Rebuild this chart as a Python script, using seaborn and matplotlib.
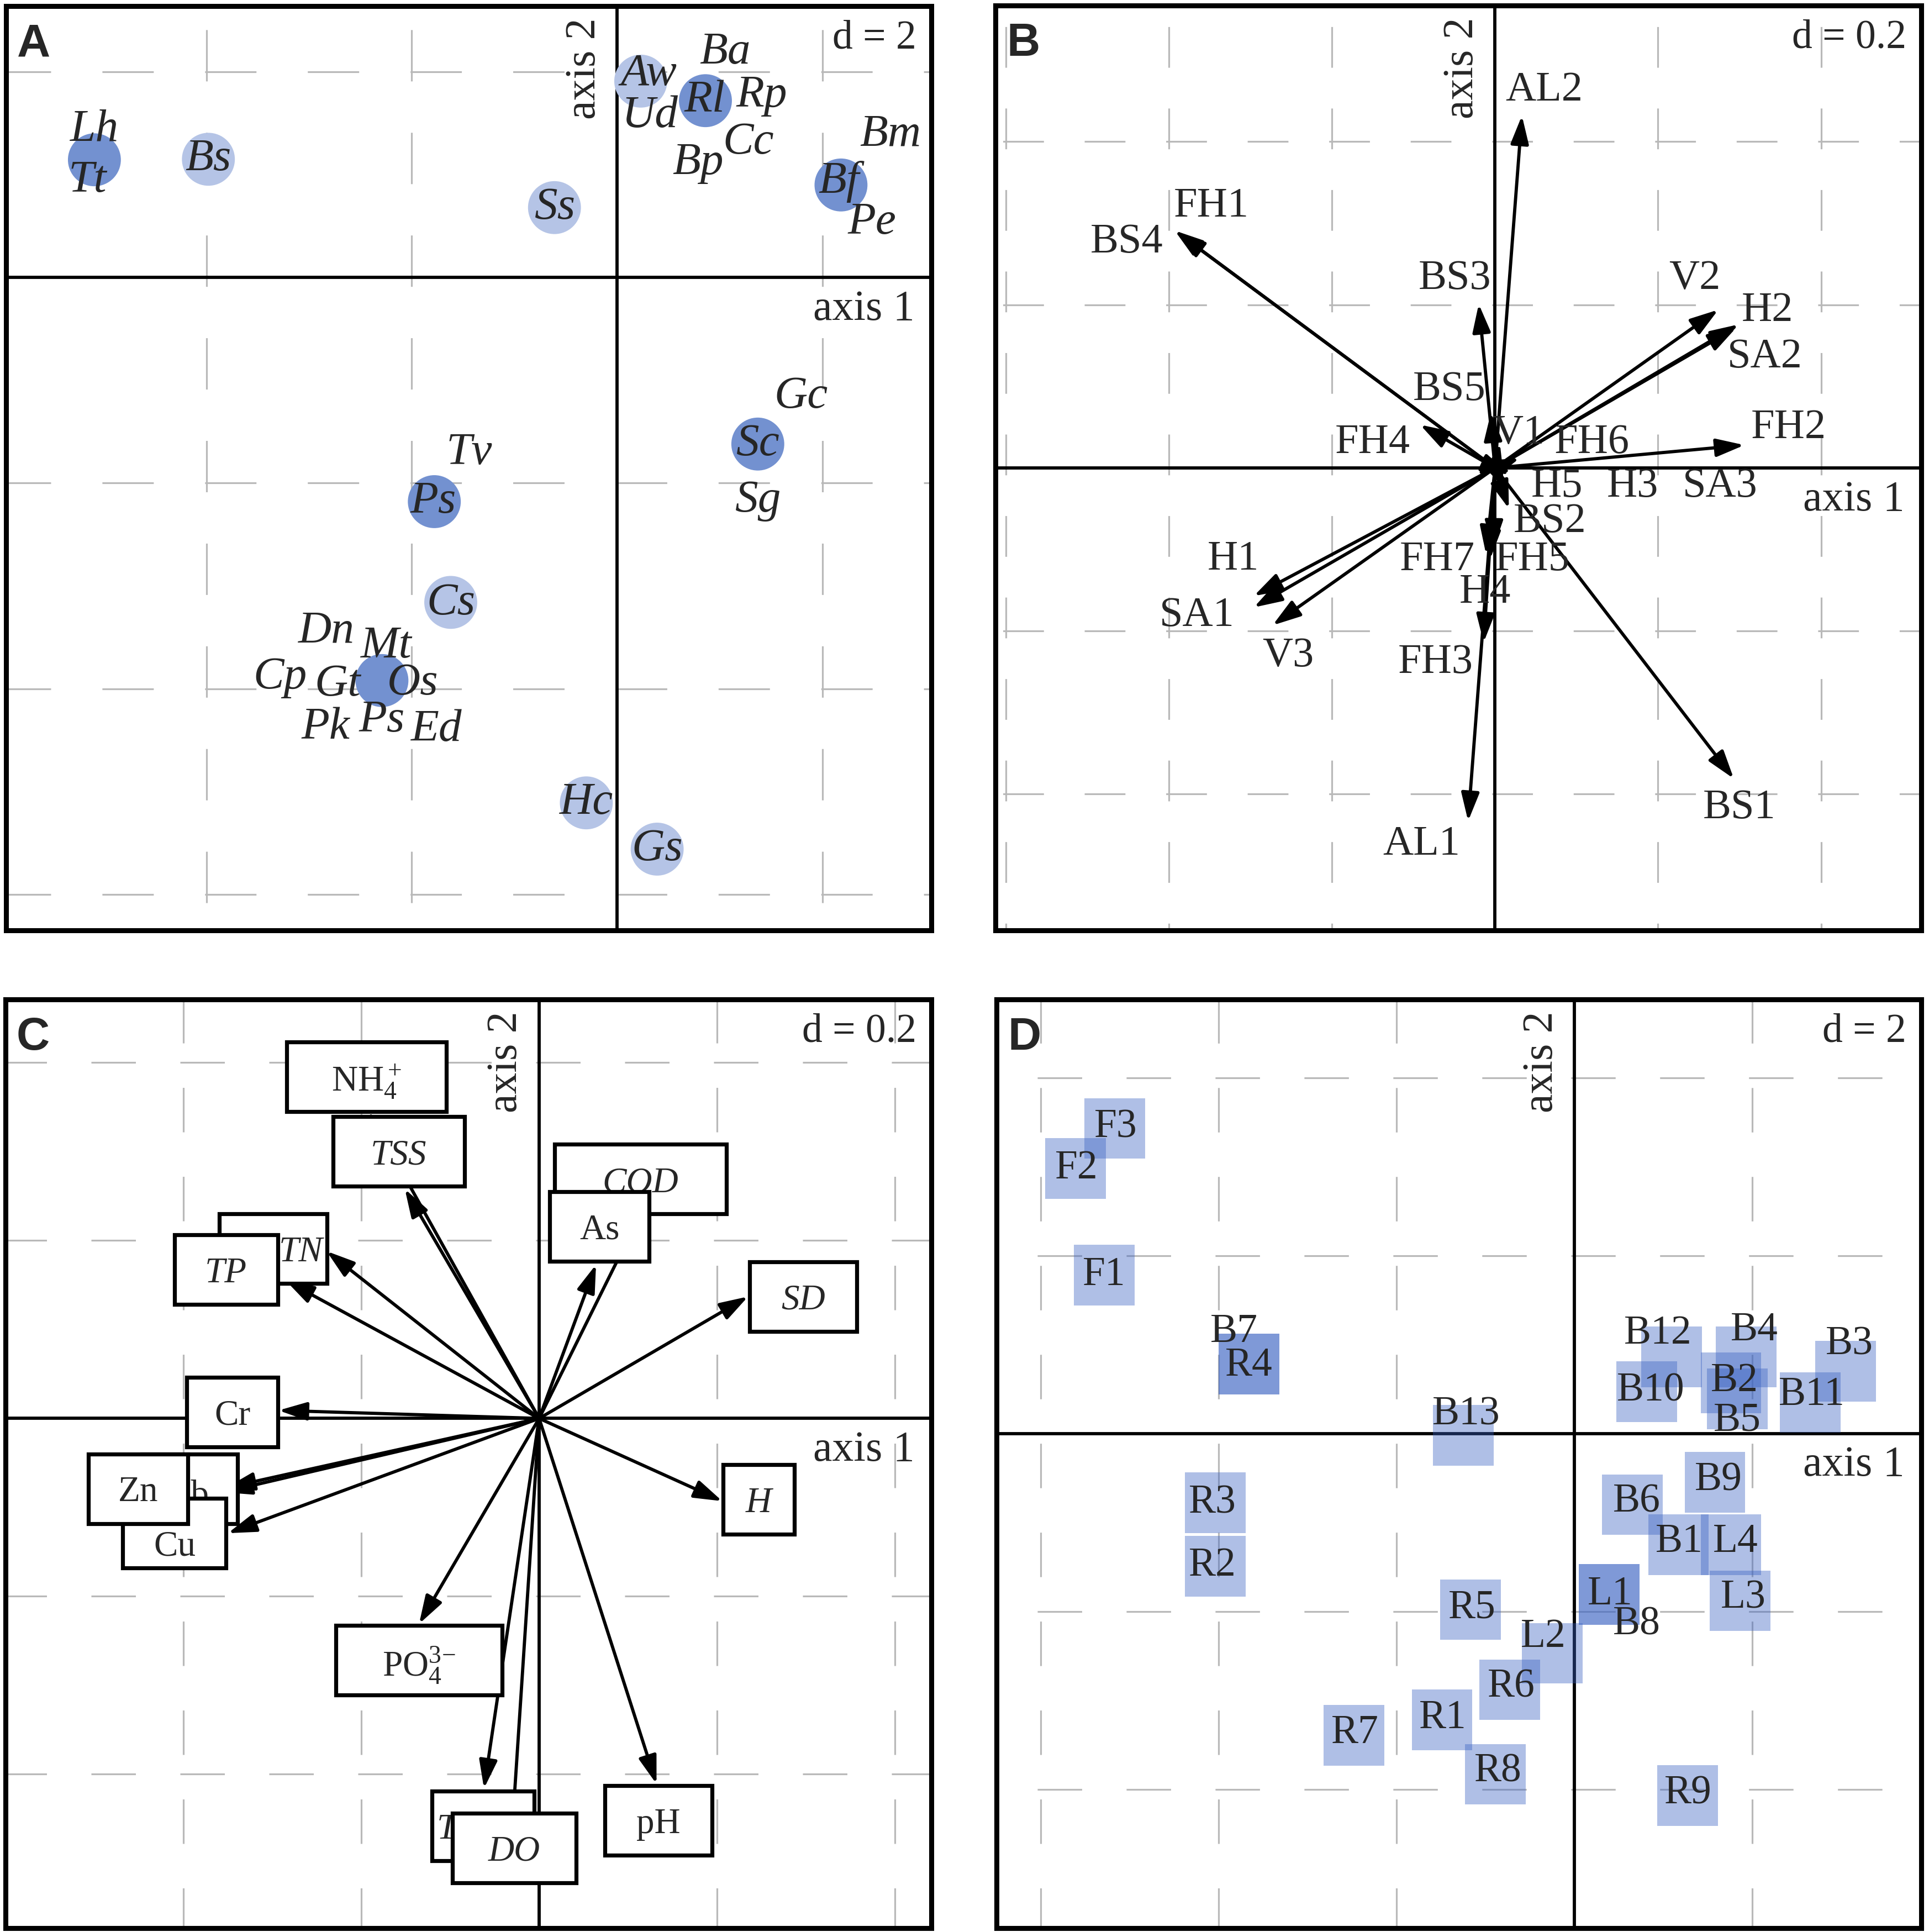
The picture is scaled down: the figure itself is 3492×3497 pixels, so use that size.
import numpy as np
import pandas as pd
import matplotlib.pyplot as plt
import seaborn as sns
from matplotlib.patches import Rectangle

sns.set_style('white')
plt.rcParams['font.family'] = ['Liberation Serif', 'DejaVu Serif']
plt.rcParams['mathtext.fontset'] = 'custom'
plt.rcParams['mathtext.rm'] = 'Liberation Serif'
plt.rcParams['mathtext.it'] = 'Liberation Serif:italic'
plt.rcParams['lines.scale_dashes'] = False

# ---- panel A: species scores (circles) ----
a_species = ['Lh', 'Tt', 'Bs', 'Ss', 'Aw', 'Ud', 'Ba', 'Rl', 'Rp', 'Cc', 'Bp',
             'Bm', 'Bf', 'Pe', 'Gc', 'Sc', 'Sg', 'Tv', 'Ps', 'Cs',
             'Dn', 'Mt', 'Cp', 'Gt', 'Os', 'Pk', 'Ps', 'Ed', 'Hc', 'Gs']
a_x = [-5.09, -5.09, -3.98, -0.61, 0.23, 0.86, 0.86, 0.86, 0.86, 0.86, 0.86,
       2.18, 2.18, 2.18, 1.37, 1.37, 1.37, -1.78, -1.78, -1.62,
       -2.29, -2.29, -2.29, -2.29, -2.29, -2.29, -2.29, -2.29, -0.30, 0.39]
a_y = [1.145, 1.145, 1.15, 0.68, 1.91, 1.72, 1.72, 1.72, 1.72, 1.72, 1.72,
       0.90, 0.90, 0.90, -1.62, -1.62, -1.62, -2.18, -2.18, -3.16,
       -3.92, -3.92, -3.92, -3.92, -3.92, -3.92, -3.92, -3.92, -5.11, -5.56]
a_lab_x = [-5.09, -5.16, -3.98, -0.61, 0.31, 0.32, 1.05, 0.85, 1.41, 1.28, 0.79,
           2.66, 2.16, 2.48, 1.79, 1.37, 1.37, -1.44, -1.79, -1.62,
           -2.83, -2.25, -3.28, -2.72, -1.99, -2.84, -2.29, -1.76, -0.30, 0.39]
a_lab_y = [1.44, 0.94, 1.15, 0.68, 1.98, 1.57, 2.19, 1.72, 1.77, 1.31, 1.11,
           1.39, 0.93, 0.53, -1.16, -1.62, -2.17, -1.71, -2.18, -3.17,
           -3.44, -3.59, -3.89, -3.96, -3.95, -4.38, -4.31, -4.40, -5.11, -5.56]

# ---- panel B: habitat variables (arrows) ----
b_vars = ['AL2', 'FH1', 'BS4', 'BS3', 'V2', 'H2', 'SA2', 'BS5', 'FH4', 'V1',
          'FH6', 'FH2', 'H5', 'H3', 'SA3', 'BS2', 'FH7', 'FH5', 'H4', 'FH3',
          'AL1', 'BS1', 'H1', 'SA1', 'V3']
b_x = [0.033, -0.390, -0.393, -0.020, 0.274, 0.299, 0.296, -0.005, -0.092, 0.006,
       0.030, 0.306, 0.020, 0.012, 0.018, 0.017, -0.011, -0.002, -0.006, -0.014,
       -0.033, 0.293, -0.296, -0.296, -0.273]
b_y = [0.432, 0.289, 0.291, 0.201, 0.194, 0.176, 0.172, 0.068, 0.053, 0.030,
       0.012, 0.028, -0.005, -0.026, -0.008, -0.050, -0.106, -0.099, -0.112, -0.214,
       -0.433, -0.381, -0.157, -0.171, -0.193]
b_lab_x = [0.060, -0.348, -0.452, -0.049, 0.245, 0.334, 0.331, -0.056, -0.150, 0.029,
           0.119, 0.360, 0.076, 0.169, 0.276, 0.067, -0.071, 0.046, -0.012, -0.073,
           -0.090, 0.300, -0.321, -0.366, -0.254]
b_lab_y = [0.463, 0.321, 0.277, 0.232, 0.232, 0.193, 0.136, 0.096, 0.031, 0.042,
           0.031, 0.049, -0.023, -0.023, -0.023, -0.066, -0.113, -0.113, -0.153, -0.239,
           -0.462, -0.417, -0.112, -0.181, -0.231]

# ---- panel C: water quality variables (arrows + boxed labels) ----
c_vars = [r'$\mathregular{NH_4^+}$', 'TSS', 'COD', 'As', 'TN', 'TP', 'SD', 'Cr',
          'Pb', 'Cu', 'Zn', 'H', r'$\mathregular{PO_4^{3\!-}}$', 'Tw', 'DO', 'pH']
c_italic = [False, True, True, False, True, True, True, False,
            False, False, False, True, False, True, True, False]
c_x = [-0.192, -0.151, 0.114, 0.064, -0.239, -0.285, 0.235, -0.293,
       -0.352, -0.350, -0.355, 0.206, -0.135, -0.062, -0.030, 0.132]
c_y = [0.345, 0.258, 0.230, 0.173, 0.188, 0.155, 0.137, 0.009,
       -0.078, -0.129, -0.083, -0.093, -0.231, -0.416, -0.458, -0.411]
# box centres
c_box_x = [-0.194, -0.158, 0.114, 0.068, -0.299, -0.352, 0.297, -0.345,
           -0.393, -0.410, -0.451, 0.247, -0.135, -0.063, -0.028, 0.134]
c_box_y = [0.384, 0.300, 0.269, 0.216, 0.191, 0.167, 0.137, 0.007,
           -0.079, -0.129, -0.079, -0.091, -0.272, -0.458, -0.483, -0.452]
# text centres
c_lab_x = [-0.194, -0.158, 0.114, 0.068, -0.268, -0.352, 0.297, -0.345,
           -0.393, -0.410, -0.451, 0.247, -0.135, -0.092, -0.028, 0.134]
c_lab_y = [0.384, 0.300, 0.269, 0.216, 0.191, 0.167, 0.137, 0.007,
           -0.083, -0.140, -0.079, -0.091, -0.272, -0.458, -0.483, -0.452]

# ---- panel D: sites (squares) ----
d_sites = ['F3', 'F2', 'F1', 'B7', 'R4', 'B13', 'B12', 'B10', 'B4', 'B2', 'B5',
           'B3', 'B11', 'B9', 'B6', 'B1', 'L4', 'L3', 'L1', 'B8', 'R5', 'L2',
           'R6', 'R1', 'R7', 'R8', 'R9', 'R3', 'R2']
d_x = [-5.17, -5.61, -5.29, -3.66, -3.66, -1.25, 1.09, 0.81, 1.93, 1.76, 1.83,
       3.05, 2.65, 1.58, 0.65, 1.17, 1.76, 1.86, 0.39, 0.39, -1.17, -0.25,
       -0.73, -1.49, -2.48, -0.89, 1.27, -4.04, -4.04]
d_y = [3.43, 2.98, 1.78, 0.78, 0.78, -0.02, 0.86, 0.47, 0.86, 0.57, 0.39,
       0.70, 0.35, -0.55, -0.80, -1.25, -1.25, -1.88, -1.81, -1.81, -1.98, -2.47,
       -2.88, -3.22, -3.39, -3.83, -4.07, -0.78, -1.49]
d_lab_x = [-5.16, -5.60, -5.29, -3.83, -3.66, -1.22, 0.94, 0.86, 2.02, 1.80, 1.83,
           3.09, 2.67, 1.62, 0.70, 1.18, 1.81, 1.90, 0.40, 0.70, -1.15, -0.35,
           -0.71, -1.48, -2.47, -0.86, 1.28, -4.07, -4.07]
d_lab_y = [3.44, 2.98, 1.78, 1.14, 0.76, 0.21, 1.12, 0.48, 1.16, 0.59, 0.14,
           1.00, 0.43, -0.53, -0.77, -1.22, -1.22, -1.85, -1.81, -2.15, -1.96, -2.29,
           -2.85, -3.20, -3.37, -3.80, -4.05, -0.78, -1.49]

FIG_W, FIG_H = 34.92, 34.97
fig = plt.figure(figsize=(FIG_W, FIG_H), dpi=100)
ax_a = fig.add_axes([0.00315, 0.51845, 0.47967, 0.4784])
ax_b = fig.add_axes([0.51604, 0.51845, 0.47995, 0.4787])
ax_c = fig.add_axes([0.00286, 0.0020, 0.47995, 0.4807])
ax_d = fig.add_axes([0.51660, 0.0020, 0.47940, 0.4807])


def frame(ax, xlim, ylim, d, d_text, letter):
    ax.set_xlim(xlim)
    ax.set_ylim(ylim)
    ax.set_xticks([])
    ax.set_yticks([])
    ax.set_xlabel('')
    ax.set_ylabel('')
    for sp in ax.spines.values():
        sp.set_visible(True)
        sp.set_linewidth(6.5)
        sp.set_color('black')
        sp.set_zorder(60)
    # dashed grid, one dash every half step
    pos = ax.get_position()
    ppu = pos.width * FIG_W * 72 / (xlim[1] - xlim[0])
    half = d / 2 * ppu
    dash = (0, (0.5 * half, 0.5 * half))
    gx = np.arange(np.ceil(xlim[0] / d) * d, xlim[1], d)
    gy = np.arange(np.ceil(ylim[0] / d) * d, ylim[1], d)
    ys = np.floor(ylim[0] / (d / 2)) * (d / 2) - 0.04 * d
    xs = np.floor(xlim[0] / (d / 2)) * (d / 2) - 0.02 * d
    for g in gx:
        if abs(g) > 1e-9:
            ax.plot([g, g], [ys, ylim[1] + d], color='#b9b9b9', lw=2.3,
                    linestyle=dash, zorder=1)
    for g in gy:
        if abs(g) > 1e-9:
            ax.plot([xs, xlim[1] + d], [g, g], color='#b9b9b9', lw=2.3,
                    linestyle=dash, zorder=1)
    ax.axhline(0, color='black', lw=4.2, zorder=2)
    ax.axvline(0, color='black', lw=4.2, zorder=2)
    ax.text(0.984, 0.985, d_text, transform=ax.transAxes, ha='right', va='top',
            fontsize=53, zorder=55)
    ax.annotate('axis 1', xy=(0.982, 0), xycoords=('axes fraction', 'data'),
                xytext=(0, -16), textcoords='offset points', ha='right', va='top',
                fontsize=56, zorder=55)
    ax.annotate('axis 2', xy=(0, 0.987), xycoords=('data', 'axes fraction'),
                xytext=(-17, 0), textcoords='offset points', ha='right', va='top',
                rotation=90, fontsize=56, zorder=55)
    ax.text(0.012, 0.982, letter, transform=ax.transAxes, ha='left', va='top',
            fontsize=60, fontweight='bold', family='Liberation Sans', zorder=55)
    ax.set_xlim(xlim)
    ax.set_ylim(ylim)


arrow_kw = dict(arrowstyle='-|>, head_length=0.5, head_width=0.16', lw=4.2,
                color='black', shrinkA=0, shrinkB=0, mutation_scale=62)

# ---- A ----
df_a = pd.DataFrame({'sp': a_species, 'x': a_x, 'y': a_y})
pts = df_a.groupby(['x', 'y']).size().reset_index(name='n')
pts['kind'] = np.where(pts['n'] > 1, 'shared', 'single')
sns.scatterplot(data=pts, x='x', y='y', hue='kind',
                palette={'single': '#B5C4E6', 'shared': '#7391D0'},
                s=4760, edgecolor='none', linewidth=0, legend=False, ax=ax_a, zorder=3)
for sp, lx, ly in zip(a_species, a_lab_x, a_lab_y):
    ax_a.text(lx, ly, sp, ha='center', va='center', fontsize=60,
              fontstyle='italic', zorder=5)
frame(ax_a, (-5.95, 3.06), (-6.35, 2.64), 2, 'd = 2', 'A')

# ---- B ----
for v, tx, ty in zip(b_vars, b_x, b_y):
    ax_b.annotate('', xy=(tx, ty), xytext=(0, 0), arrowprops=arrow_kw, zorder=4)
for v, lx, ly in zip(b_vars, b_lab_x, b_lab_y):
    ax_b.text(lx, ly, v, ha='center', va='center', fontsize=55, zorder=5)
frame(ax_b, (-0.613, 0.523), (-0.567, 0.567), 0.2, 'd = 0.2', 'B')

# ---- C ----
frame(ax_c, (-0.600, 0.441), (-0.573, 0.471), 0.2, 'd = 0.2', 'C')
for v, tx, ty in zip(c_vars, c_x, c_y):
    ax_c.annotate('', xy=(tx, ty), xytext=(0, 0), arrowprops=arrow_kw, zorder=4)
renderer = fig.canvas.get_renderer()
cbox = ax_c.get_window_extent(renderer)
ppx = cbox.width / (0.441 + 0.600)
ppy = cbox.height / (0.471 + 0.573)
for i, v in enumerate(c_vars):
    t = ax_c.text(c_lab_x[i], c_lab_y[i], v, ha='center', va='center_baseline',
                  fontsize=47, fontstyle='italic' if c_italic[i] else 'normal',
                  zorder=7 + 2 * i)
    tw = t.get_window_extent(renderer).width
    w = (2.0 * tw + 35) / ppx
    h = 126 / ppy
    ax_c.add_patch(Rectangle((c_box_x[i] - w / 2, c_box_y[i] - h / 2), w, h,
                             facecolor='white', edgecolor='black', lw=5.2,
                             zorder=6 + 2 * i))

# ---- D ----
sns.scatterplot(x=d_x, y=d_y, marker='s', s=6250, color=(0.22, 0.38, 0.76),
                alpha=0.40, edgecolor='none', linewidth=0, legend=False, ax=ax_d, zorder=3)
for s_, lx, ly in zip(d_sites, d_lab_x, d_lab_y):
    ax_d.text(lx, ly, s_, ha='center', va='center', fontsize=53, zorder=5)
frame(ax_d, (-6.50, 3.90), (-5.56, 4.88), 2, 'd = 2', 'D')

fig.savefig('out.png', dpi=100, facecolor='white')
